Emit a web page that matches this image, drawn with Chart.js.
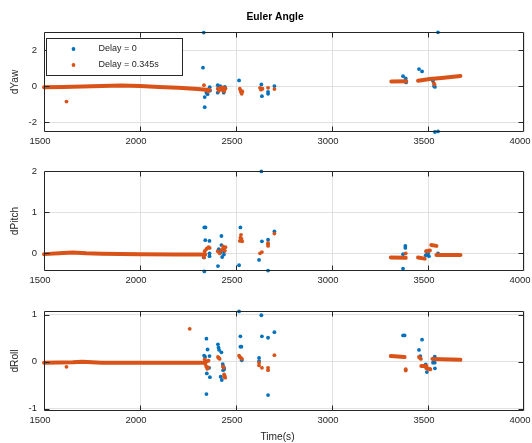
<!DOCTYPE html>
<html><head><meta charset="utf-8">
<script src="https://cdn.jsdelivr.net/npm/chart.js@4.4.1/dist/chart.umd.min.js"></script>
<style>
html,body{margin:0;padding:0;background:#fff;}
body{width:532px;height:443px;overflow:hidden;position:relative;}
canvas{position:absolute;left:0;}
</style></head><body>
<canvas id="c1" width="532" height="150" style="top:0px"></canvas>
<canvas id="c2" width="532" height="140" style="top:150px"></canvas>
<canvas id="c3" width="532" height="153" style="top:290px"></canvas>
<script>
// ---------------- data ----------------
const TITLE = 'Euler Angle';
const X_LABEL = 'Time(s)';
const Y_LABELS = ['dYaw', 'dPitch', 'dRoll'];
const SERIES_LABELS = ['Delay = 0', 'Delay = 0.345s'];
const X_TICKS = [1500, 2000, 2500, 3000, 3500, 4000];
const YAW_TICKS = [-2, 0, 2];
const PITCH_TICKS = [0, 1, 2];
const ROLL_TICKS = [-1, 0, 1];
const X_RANGE = [1500, 4000];
const YAW_RANGE = [-2.55, 3];
const PITCH_RANGE = [-0.43, 2];
const ROLL_RANGE = [-1.05, 1.08];

// Delay = 0 (blue) isolated samples
const YAW_D0 = [[2332,2.97],[2328,1.02],[2337,-0.61],[2337,-1.17],[2346,-0.37],[2352,-0.45],[2363,-0.06],[2365,-0.25],[2405,0.05],[2405,-0.37],[2418,0.0],[2428,-0.2],[2436,-0.37],[2442,-0.05],[2516,0.31],[2632,0.09],[2635,-0.56],[2667,-0.32],[2667,-0.43],[2700,0.0],[3370,0.55],[3384,0.42],[3386,0.2],[3453,0.94],[3469,0.81],[3526,0.28],[3531,0.0],[3536,-0.05],[3552,2.98],[3536,-2.55],[3552,-2.52]];
// Delay = 0.345s (orange) isolated samples
const YAW_D345 = [[1617,-0.86],[2333,0.05],[2345,-0.25],[2355,-0.3],[2362,-0.2],[2405,-0.15],[2410,-0.28],[2418,-0.1],[2425,-0.2],[2432,-0.08],[2438,-0.3],[2442,-0.18],[2445,-0.12],[2520,-0.15],[2524,-0.25],[2527,-0.35],[2530,-0.43],[2533,-0.3],[2625,-0.1],[2630,-0.2],[2638,-0.15],[2667,-0.1],[2700,-0.17],[3531,0.15],[3534,0.08]];
// Delay = 0.345s dense runs (read as vertex paths)
const YAW_D345_RUNS = [
  [[1500,-0.06],[1600,-0.05],[1700,-0.03],[1800,0.0],[1900,0.03],[2000,0.0],[2100,-0.05],[2200,-0.1],[2300,-0.17],[2360,-0.22]],
  [[3309,0.25],[3387,0.26]],
  [[3448,0.30],[3509,0.39],[3570,0.45],[3669,0.56]]
];

const PITCH_D0 = [[2632,1.99],[2335,0.63],[2341,0.63],[2340,0.32],[2362,0.3],[2335,-0.44],[2332,-0.1],[2362,0.0],[2362,-0.07],[2406,-0.31],[2424,0.42],[2410,0.1],[2416,0.06],[2420,0.02],[2424,0.2],[2428,-0.09],[2437,-0.03],[2437,0.05],[2523,0.63],[2516,-0.29],[2635,0.29],[2620,-0.16],[2667,0.33],[2667,-0.42],[2700,0.53],[3382,0.18],[3382,0.13],[3370,-0.02],[3370,-0.37],[3488,-0.05],[3495,-0.02],[3500,0.0],[3505,-0.07],[3552,0.0]];
const PITCH_D345 = [[2337,0.05],[2345,0.1],[2350,0.12],[2357,0.15],[2363,0.13],[2334,-0.1],[2405,0.05],[2415,0.0],[2425,0.08],[2432,0.17],[2438,0.12],[2442,0.06],[2445,0.15],[2520,0.3],[2523,0.38],[2526,0.45],[2529,0.35],[2532,0.29],[2625,0.0],[2635,0.03],[2667,0.18],[2667,0.22],[2667,0.25],[2700,0.48],[3384,0.0]];
const PITCH_D345_RUNS = [
  [[1500,-0.02],[1600,0.01],[1650,0.02],[1720,0.0],[1800,-0.01],[2000,-0.02],[2200,-0.03],[2340,-0.03]],
  [[3306,-0.1],[3384,-0.11]],
  [[3448,-0.1],[3483,-0.13]],
  [[3490,0.05],[3510,0.07]],
  [[3517,0.2],[3544,0.18]],
  [[3544,-0.04],[3669,-0.04]]
];

const ROLL_D0 = [[2516,1.07],[2632,0.99],[2346,0.49],[2352,0.26],[2339,0.1],[2334,0.13],[2362,0.12],[2348,-0.25],[2364,-0.33],[2346,-0.69],[2360,-0.13],[2406,0.37],[2409,0.3],[2412,0.25],[2424,0.2],[2431,-0.05],[2438,-0.16],[2434,-0.1],[2420,-0.32],[2426,-0.39],[2433,-0.18],[2437,-0.13],[2523,0.54],[2523,0.32],[2528,0.32],[2530,0.03],[2635,0.54],[2667,0.51],[2700,0.63],[2620,0.08],[2620,0.01],[2667,-0.71],[3370,0.56],[3378,0.56],[3469,0.47],[3453,0.25],[3460,0.12],[3488,-0.06],[3494,-0.22],[3535,0.11],[3526,-0.02],[3535,-0.02],[3536,-0.14]];
const ROLL_D345 = [[1617,-0.11],[2259,0.70],[2337,0.05],[2340,-0.05],[2345,-0.1],[2350,-0.15],[2355,-0.12],[2345,0.0],[2357,0.02],[2406,0.1],[2410,0.08],[2415,0.06],[2432,-0.1],[2436,-0.13],[2438,-0.27],[2441,-0.3],[2444,-0.34],[2438,-0.32],[2516,0.13],[2520,0.1],[2525,0.08],[2531,0.06],[2620,-0.02],[2620,-0.08],[2635,-0.13],[2667,-0.13],[2667,-0.18],[2700,0.14],[3384,-0.16],[3384,-0.19],[3453,0.1],[3458,0.08],[3463,0.06]];
const ROLL_D345_RUNS = [
  [[1500,-0.02],[1650,-0.01],[1700,0.0],[1800,-0.02],[2000,-0.02],[2200,-0.02],[2334,-0.02]],
  [[3306,0.12],[3378,0.10]],
  [[3465,-0.09],[3491,-0.09]],
  [[3491,-0.14],[3512,-0.16]],
  [[3523,0.06],[3669,0.04]]
];

// ---------------- styles ----------------
const BLUE = '#0072BD', ORANGE = '#D95319', AXIS = '#262626', GRID = '#e1e1e1';
const FONT = "'Liberation Sans', Arial, Helvetica, sans-serif";
Chart.defaults.font.family = FONT;
Chart.defaults.color = AXIS;
Chart.defaults.animation = false;

const toPts = a => a.map(p => ({x: p[0], y: p[1]}));

const matlabAxes = {
  id: 'matlabAxes',
  afterDatasetsDraw(chart) {
    const {ctx, chartArea: a, scales} = chart;
    const L = a.left + 0.5, R = a.right - 0.5, T = a.top + 0.5, B = a.bottom - 0.5, tl = 5;
    ctx.save();
    ctx.strokeStyle = AXIS; ctx.lineWidth = 1;
    ctx.beginPath();
    ctx.rect(L, T, R - L, B - T);
    scales.x.ticks.forEach(t => {
      const px = Math.round(scales.x.getPixelForValue(t.value)) + 0.5;
      if (px < L + 1 || px > R - 1) return;
      ctx.moveTo(px, B); ctx.lineTo(px, B - tl);
      ctx.moveTo(px, T); ctx.lineTo(px, T + tl);
    });
    scales.y.ticks.forEach(t => {
      const py = Math.round(scales.y.getPixelForValue(t.value)) + 0.5;
      if (py < T + 1 || py > B - 1) return;
      ctx.moveTo(L, py); ctx.lineTo(L + tl, py);
      ctx.moveTo(R, py); ctx.lineTo(R - tl, py);
    });
    ctx.stroke();
    ctx.restore();
  }
};

const legendBox = {
  id: 'legendBox',
  afterDatasetsDraw(chart, args, opts) {
    if (!opts || !opts.show) return;
    const {ctx, chartArea: a} = chart;
    const x = Math.round(a.left + 2) + 0.5, y = Math.round(a.top + 6) + 0.5, w = 136, h = 37;
    ctx.save();
    ctx.fillStyle = '#fff'; ctx.strokeStyle = AXIS; ctx.lineWidth = 1;
    ctx.fillRect(x, y, w, h); ctx.strokeRect(x, y, w, h);
    const cols = [BLUE, ORANGE];
    SERIES_LABELS.forEach((lab, i) => {
      const cy = y + 10 + i * 16;
      ctx.fillStyle = cols[i];
      ctx.beginPath(); ctx.arc(x + 27, cy + 0.5, 1.9, 0, Math.PI * 2); ctx.fill();
      ctx.fillStyle = AXIS;
      ctx.font = '9px ' + FONT;
      ctx.textAlign = 'left'; ctx.textBaseline = 'middle';
      ctx.fillText(lab, x + 52, cy);
    });
    ctx.restore();
  }
};

const freeText = {
  id: 'freeText',
  afterDraw(chart, args, opts) {
    if (!opts || !opts.items) return;
    const ctx = chart.ctx;
    ctx.save();
    opts.items.forEach(t => {
      ctx.font = t.font; ctx.fillStyle = t.color;
      ctx.textAlign = 'center'; ctx.textBaseline = 'middle';
      ctx.fillText(t.text, t.x, t.y);
    });
    ctx.restore();
  }
};

function makeChart(id, cfg) {
  const datasets = [];
  datasets.push({label: SERIES_LABELS[1], data: toPts(cfg.d345), backgroundColor: ORANGE, borderColor: ORANGE,
    pointRadius: 1.9, pointBorderWidth: 0, pointHoverRadius: 1.9, showLine: false, clip: false, order: 0});
  cfg.runs.forEach(run => datasets.push({label: SERIES_LABELS[1] + ' run', data: toPts(run), borderColor: ORANGE,
    backgroundColor: ORANGE, borderWidth: 4, pointRadius: 0, showLine: true, borderCapStyle: 'round',
    borderJoinStyle: 'round', tension: 0, clip: false, order: 1}));
  datasets.push({label: SERIES_LABELS[0], data: toPts(cfg.d0), backgroundColor: BLUE, borderColor: BLUE,
    pointRadius: 1.9, pointBorderWidth: 0, pointHoverRadius: 1.9, showLine: false, clip: false, order: 2});

  return new Chart(document.getElementById(id), {
    type: 'scatter',
    data: {datasets},
    options: {
      responsive: false,
      animation: false,
      events: [],
      layout: {padding: {left: 0, right: 8, top: cfg.padTop, bottom: 0}},
      plugins: {
        legend: {display: false},
        tooltip: {enabled: false},
        legendBox: {show: !!cfg.legend},
        freeText: {items: cfg.texts || []}
      },
      scales: {
        x: {
          type: 'linear', min: X_RANGE[0], max: X_RANGE[1],
          afterBuildTicks: s => { s.ticks = X_TICKS.map(v => ({value: v})); },
          afterFit: s => { s.height = cfg.xAxisH; s.paddingLeft = 0; s.paddingRight = 0; },
          ticks: {padding: 3.5, labelOffset: -4, font: {size: 9.5}, color: AXIS, maxRotation: 0, autoSkip: false,
            callback: v => String(v)},
          grid: {color: GRID, drawTicks: false, lineWidth: 1},
          border: {display: false}
        },
        y: {
          type: 'linear', min: cfg.range[0], max: cfg.range[1],
          afterBuildTicks: s => { s.ticks = cfg.ticks.map(v => ({value: v})); },
          afterFit: s => { s.width = 44; s.paddingTop = 0; s.paddingBottom = 0; },
          ticks: {padding: 7, font: {size: 9.5}, color: AXIS, callback: v => String(v)},
          grid: {color: GRID, drawTicks: false, lineWidth: 1},
          border: {display: false},
          title: {display: true, text: cfg.ylabel, font: {size: 10.2}, color: AXIS, padding: {top: 9, bottom: 0}}
        }
      }
    },
    plugins: [matlabAxes, legendBox, freeText]
  });
}

makeChart('c1', {d0: YAW_D0, d345: YAW_D345, runs: YAW_D345_RUNS, range: YAW_RANGE, ticks: YAW_TICKS,
  ylabel: Y_LABELS[0], padTop: 32, xAxisH: 18, legend: true,
  texts: [{text: TITLE, x: 275, y: 17, font: 'bold 10.3px ' + FONT, color: '#000'}]});
makeChart('c2', {d0: PITCH_D0, d345: PITCH_D345, runs: PITCH_D345_RUNS, range: PITCH_RANGE, ticks: PITCH_TICKS,
  ylabel: Y_LABELS[1], padTop: 21, xAxisH: 19});
makeChart('c3', {d0: ROLL_D0, d345: ROLL_D345, runs: ROLL_D345_RUNS, range: ROLL_RANGE, ticks: ROLL_TICKS,
  ylabel: Y_LABELS[2], padTop: 21, xAxisH: 32,
  texts: [{text: X_LABEL, x: 277.5, y: 147.5, font: '10.2px ' + FONT, color: AXIS}]});
</script>
</body></html>
